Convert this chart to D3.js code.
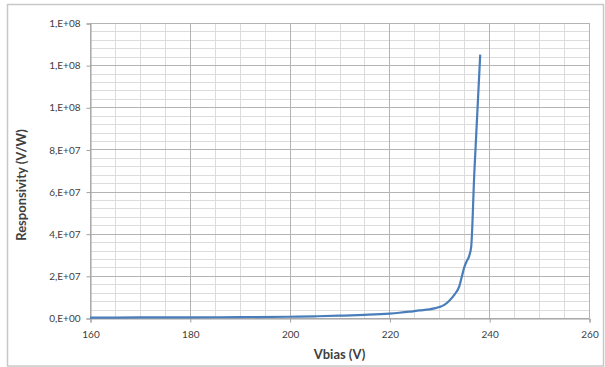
<!DOCTYPE html>
<html>
<head>
<meta charset="utf-8">
<script src="https://cdn.jsdelivr.net/npm/d3@7"></script>
<style>
  body { margin: 0; background: #fff; }
  text { font-family: Lato, "Open Sans", sans-serif; fill: #404040; }
</style>
</head>
<body>
<svg id="svg" width="605" height="367"></svg>
<script>
// (volts / V/W)
let vbias = [160, 170, 180, 190, 200, 205, 210, 215, 220, 222, 224, 226, 228, 229, 230,
             231, 232, 233, 234, 234.5, 235, 235.5, 236, 236.4, 237, 238.2];
let resp = [0.2e6, 0.25e6, 0.3e6, 0.4e6, 0.6e6, 0.8e6, 1.1e6, 1.5e6, 2.1e6, 2.5e6, 3.0e6, 3.6e6, 4.1e6, 4.6e6, 5.2e6,
            6.2e6, 8.2e6, 1.1e7, 1.5e7, 1.95e7, 2.4e7, 2.7e7, 2.95e7, 3.4e7, 6.8e7, 1.25e8];

let xTicks = [160, 180, 200, 220, 240, 260];
let yTicks = [0, 2e7, 4e7, 6e7, 8e7, 1e8, 1.2e8, 1.4e8];
let yTickLabels = ["0,E+00", "2,E+07", "4,E+07", "6,E+07", "8,E+07", "1,E+08", "1,E+08", "1,E+08"];

let plotLeft = 90, plotRight = 589, plotTop = 23, plotBottom = 318;

let svg = d3.select("#svg");

let x = d3.scaleLinear().domain([160, 260]).range([plotLeft, plotRight]);
let y = d3.scaleLinear().domain([0, 1.4e8]).range([plotBottom, plotTop]);

// outer chart border
svg.append("rect")
    .attr("x", 7.5).attr("y", 4.5)
    .attr("width", 596).attr("height", 361.5)
    .attr("fill", "none")
    .attr("stroke", "#c8c8c8")
    .attr("stroke-width", 1.5);

// minor grid
let grid = svg.append("g");
grid.selectAll(".vminor")
    .data(d3.range(160, 261, 5))
    .enter().append("line")
    .attr("x1", d => Math.round(x(d)) + 0.5).attr("x2", d => Math.round(x(d)) + 0.5)
    .attr("y1", plotTop).attr("y2", plotBottom)
    .attr("stroke", "#dcdcdc");
grid.selectAll(".hminor")
    .data(d3.range(0, 1.4e8 + 1, 4e6))
    .enter().append("line")
    .attr("x1", plotLeft).attr("x2", plotRight)
    .attr("y1", d => Math.round(y(d)) + 0.5).attr("y2", d => Math.round(y(d)) + 0.5)
    .attr("stroke", "#dcdcdc");

// major grid
grid.selectAll(".vmajor")
    .data(xTicks)
    .enter().append("line")
    .attr("x1", d => Math.round(x(d)) + 0.5).attr("x2", d => Math.round(x(d)) + 0.5)
    .attr("y1", plotTop).attr("y2", plotBottom)
    .attr("stroke", "#b4b4b4");
grid.selectAll(".hmajor")
    .data(yTicks)
    .enter().append("line")
    .attr("x1", plotLeft).attr("x2", plotRight)
    .attr("y1", d => Math.round(y(d)) + 0.5).attr("y2", d => Math.round(y(d)) + 0.5)
    .attr("stroke", "#b4b4b4");

// axes
let xAxis = svg.append("g")
    .attr("transform", `translate(0.5,${plotBottom + 0.5})`)
    .call(d3.axisBottom(x).tickValues(xTicks).tickSize(4).tickPadding(8));
let yAxis = svg.append("g")
    .attr("transform", `translate(${plotLeft + 0.5},0.5)`)
    .call(d3.axisLeft(y).tickValues(yTicks).tickSize(4).tickPadding(6)
        .tickFormat((d, i) => yTickLabels[i]));

[xAxis, yAxis].forEach(a => {
    a.select(".domain").attr("stroke", "#a0a0a0");
    a.selectAll(".tick line").attr("stroke", "#a0a0a0");
    a.selectAll("text")
        .style("font-family", "Lato, 'Open Sans', sans-serif")
        .style("font-size", "10px")
        .attr("fill", "#404040");
});

// the curve
let line = d3.line()
    .x((d, i) => x(vbias[i]))
    .y(d => y(d))
    .curve(d3.curveMonotoneX);

svg.append("path")
    .datum(resp)
    .attr("d", line)
    .attr("fill", "none")
    .attr("stroke", "#4a7ebb")
    .attr("stroke-width", 2.2)
    .attr("stroke-linejoin", "round");

// axis titles
svg.append("text")
    .attr("x", (plotLeft + plotRight) / 2)
    .attr("y", 359)
    .attr("text-anchor", "middle")
    .style("font-size", "13px")
    .style("font-weight", "bold")
    .text("Vbias (V)");

svg.append("text")
    .attr("transform", "translate(26,185) rotate(-90)")
    .attr("text-anchor", "middle")
    .style("font-size", "13px")
    .style("font-weight", "bold")
    .text("Responsivity (V/W)");
</script>
</body>
</html>
